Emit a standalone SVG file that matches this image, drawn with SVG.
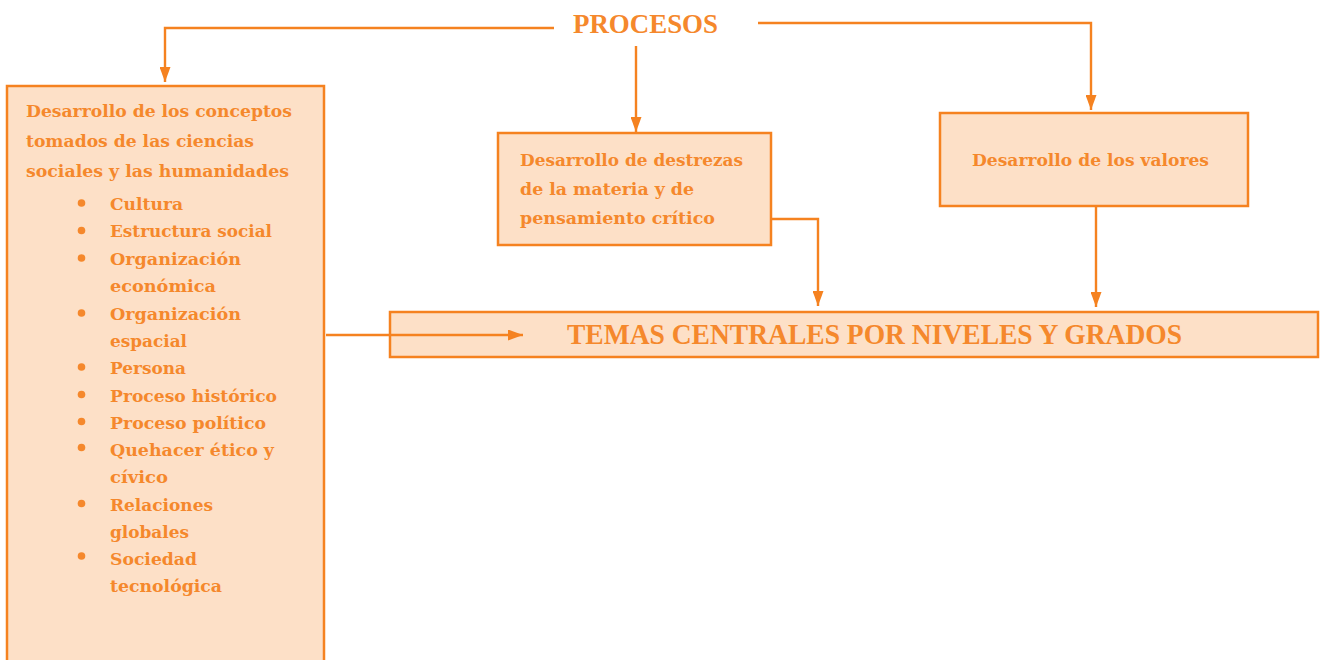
<svg xmlns="http://www.w3.org/2000/svg" width="1325" height="660" viewBox="0 0 1325 660">
<style>
.box{fill:#fde0c7;stroke:#f58220;stroke-width:2.5}
.t{font-family:"DejaVu Serif","Liberation Serif",serif;font-weight:bold;font-size:17.5px;fill:#f5882c}
.big{font-family:"Liberation Serif",serif;font-weight:bold;fill:#f5882c}
.c{fill:none;stroke:#f58220;stroke-width:2.4}
.b{fill:#f5882c}
</style>
<defs>
<marker id="ah" markerUnits="userSpaceOnUse" markerWidth="15" markerHeight="11" refX="15" refY="5.5" orient="auto">
<path d="M0,0 L15,5.5 L0,11 z" fill="#f58220"/>
</marker>
</defs>
<rect width="1325" height="660" fill="#ffffff"/>
<g id="procesos">
<text class="big" x="573" y="33" font-size="27" textLength="145" lengthAdjust="spacingAndGlyphs">PROCESOS</text>
</g>
<g id="conceptos">
<rect class="box" x="7" y="86" width="317" height="590"/>
<text class="t" x="26" y="117" textLength="266" lengthAdjust="spacingAndGlyphs">Desarrollo de los conceptos</text>
<text class="t" x="26" y="147" textLength="228" lengthAdjust="spacingAndGlyphs">tomados de las ciencias</text>
<text class="t" x="26" y="177" textLength="263" lengthAdjust="spacingAndGlyphs">sociales y las humanidades</text>
<circle class="b" cx="81.5" cy="203" r="3.8"/><text class="t" x="110" y="209.5" textLength="73" lengthAdjust="spacingAndGlyphs">Cultura</text>
<circle class="b" cx="81.5" cy="230.5" r="3.8"/><text class="t" x="110" y="237" textLength="162" lengthAdjust="spacingAndGlyphs">Estructura social</text>
<circle class="b" cx="81.5" cy="258" r="3.8"/><text class="t" x="110" y="264.5" textLength="131" lengthAdjust="spacingAndGlyphs">Organización</text>
<text class="t" x="110" y="291.5" textLength="106" lengthAdjust="spacingAndGlyphs">económica</text>
<circle class="b" cx="81.5" cy="313" r="3.8"/><text class="t" x="110" y="319.5" textLength="131" lengthAdjust="spacingAndGlyphs">Organización</text>
<text class="t" x="110" y="346.5" textLength="77" lengthAdjust="spacingAndGlyphs">espacial</text>
<circle class="b" cx="81.5" cy="367" r="3.8"/><text class="t" x="110" y="373.5" textLength="76" lengthAdjust="spacingAndGlyphs">Persona</text>
<circle class="b" cx="81.5" cy="394.5" r="3.8"/><text class="t" x="110" y="401.5" textLength="167" lengthAdjust="spacingAndGlyphs">Proceso histórico</text>
<circle class="b" cx="81.5" cy="421.5" r="3.8"/><text class="t" x="110" y="428.5" textLength="156" lengthAdjust="spacingAndGlyphs">Proceso político</text>
<circle class="b" cx="81.5" cy="447.5" r="3.8"/><text class="t" x="110" y="456" textLength="164" lengthAdjust="spacingAndGlyphs">Quehacer ético y</text>
<text class="t" x="110" y="483" textLength="58" lengthAdjust="spacingAndGlyphs">cívico</text>
<circle class="b" cx="81.5" cy="503.5" r="3.8"/><text class="t" x="110" y="510.5" textLength="103" lengthAdjust="spacingAndGlyphs">Relaciones</text>
<text class="t" x="110" y="537.5" textLength="79" lengthAdjust="spacingAndGlyphs">globales</text>
<circle class="b" cx="81.5" cy="556" r="3.8"/><text class="t" x="110" y="564.5" textLength="87" lengthAdjust="spacingAndGlyphs">Sociedad</text>
<text class="t" x="110" y="592" textLength="112" lengthAdjust="spacingAndGlyphs">tecnológica</text>
</g>
<g id="destrezas">
<rect class="box" x="498" y="133" width="273" height="112"/>
<text class="t" x="520" y="165.5" textLength="223" lengthAdjust="spacingAndGlyphs">Desarrollo de destrezas</text>
<text class="t" x="520" y="194.5" textLength="174" lengthAdjust="spacingAndGlyphs">de la materia y de</text>
<text class="t" x="520" y="223.5" textLength="195" lengthAdjust="spacingAndGlyphs">pensamiento crítico</text>
</g>
<g id="valores">
<rect class="box" x="940" y="113" width="308" height="93"/>
<text class="t" x="972" y="165.5" textLength="237" lengthAdjust="spacingAndGlyphs">Desarrollo de los valores</text>
</g>
<g id="temas">
<rect class="box" x="390" y="312" width="928" height="45"/>
<text class="big" x="567" y="344" font-size="29" textLength="615" lengthAdjust="spacingAndGlyphs">TEMAS CENTRALES POR NIVELES Y GRADOS</text>
</g>
<g id="connectors">
<path class="c" d="M554,28 H165 V82" marker-end="url(#ah)"/>
<path class="c" d="M758,23 H1091 V110" marker-end="url(#ah)"/>
<path class="c" d="M636,46 V132" marker-end="url(#ah)"/>
<path class="c" d="M771,219 H818 V306" marker-end="url(#ah)"/>
<path class="c" d="M1096,206 V307" marker-end="url(#ah)"/>
<path class="c" d="M326,335 H523" marker-end="url(#ah)"/>
</g>
</svg>
